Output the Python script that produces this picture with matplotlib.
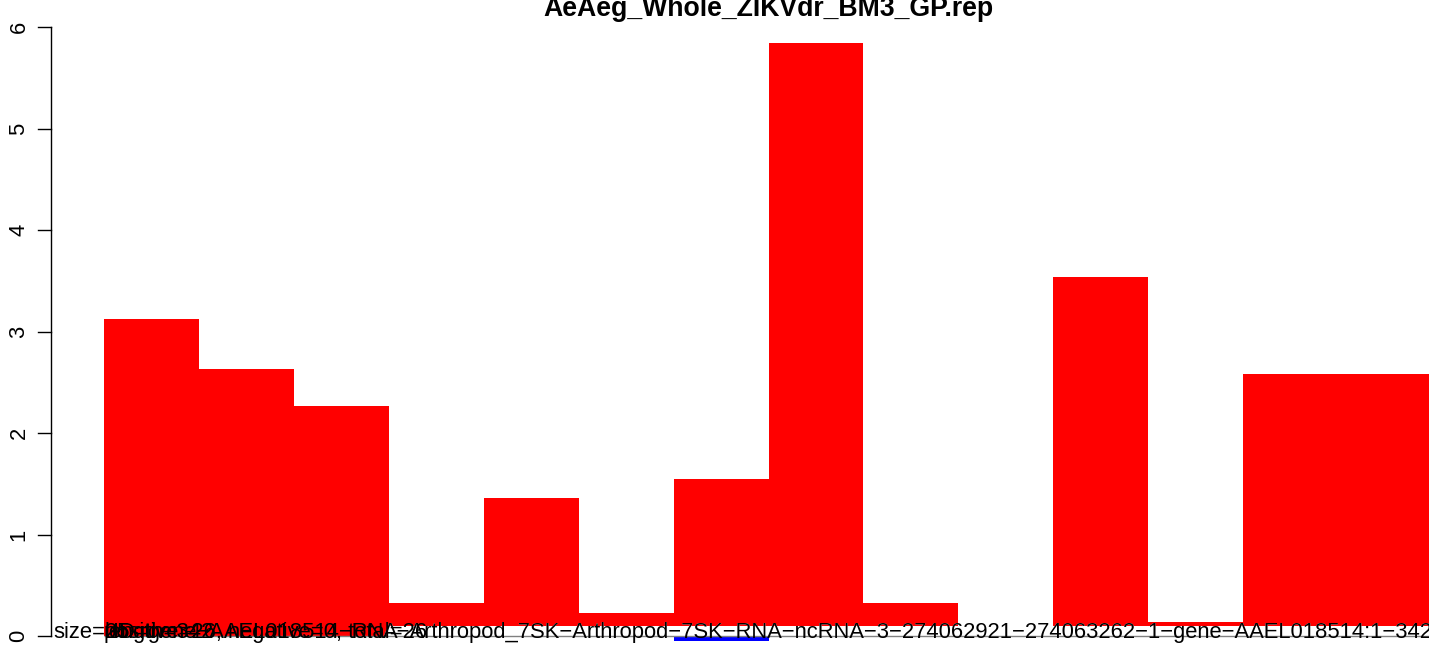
import matplotlib.pyplot as plt
import numpy as np

plt.rcParams['font.family'] = ['Liberation Sans', 'DejaVu Sans']

# values
positive = [3.12, 2.63, 2.27, 0.33, 1.36, 0.23, 1.55, 5.84, 0.33, 0.0, 3.54, 0.14, 2.58, 2.58]
negative = [0, 0, 0, 0, 0, 0, -0.05, 0, 0, 0, 0, 0, 0, 0]
yticks = [0, 1, 2, 3, 4, 5, 6]
title = "AeAeg_Whole_ZIKVdr_BM3_GP.rep"
size_label = "size=25"
info_labels = ["positive=26, negative=0, total=26", "length=342"]
name_head = "ID=gene\u2212AAEL018514\u2212RN"
name_tail = ("A\u2212Arthropod_7SK\u2212Arthropod\u22127SK\u2212RNA\u2212ncRNA\u22123\u2212"
             "274062921\u2212274063262\u22121\u2212gene\u2212AAEL018514:1\u2212342")

W, H = 1429, 645
fs = 15.8

fig = plt.figure(figsize=(W / 100, H / 100), dpi=100)
ax = fig.add_axes([0, 0, 1, 1])
ax.axis('off')

# pixel layout: bar 0 starts at x=104, each bar ~94.93 px; y=0 at 636 px, 101.5 px per unit
bw = 94.93
x0 = 104
y0 = 636
yu = 101.5
ax.set_xlim(-x0 / bw, (W - x0) / bw)
ax.set_ylim(-(H - y0) / yu, y0 / yu)

x = np.arange(len(positive))
ax.bar(x, positive, width=1, align='edge', color='red', linewidth=0, zorder=2)

# y axis drawn R style
ax_x = (50.5 - x0) / bw
tick_len = 13 / bw
ax.plot([ax_x, ax_x], [yticks[0], yticks[-1]], color='black', lw=1, zorder=5, clip_on=False)
for t in yticks:
    ax.plot([ax_x - tick_len, ax_x], [t, t], color='black', lw=1, zorder=5)
    ax.text((19 - x0) / bw, t, str(t), rotation=90, ha='center', va='center', fontsize=fs)

fig.text(768 / W, 1 - 16 / H, title, ha='center', va='baseline', fontsize=19.2, fontweight='bold')

ty = -2 / yu
ax.text((53 - x0) / bw, ty, size_label, fontsize=fs, va='baseline', ha='left', zorder=6)
for s in info_labels:
    ax.text(0, ty, s, fontsize=fs, va='baseline', ha='left', zorder=6)
head = ax.text(9 / bw, ty, name_head, fontsize=fs, va='baseline', ha='left', zorder=6)

# tail of the name sits on a white box that hides the bar bottoms
ax.annotate(name_tail, xy=(1, 0), xycoords=head, va='bottom', ha='left', fontsize=fs,
            color='white', zorder=3,
            bbox=dict(facecolor='white', edgecolor='none', boxstyle='square,pad=-0.2'))
ax.bar(x, negative, width=1, align='edge', color='blue', linewidth=0, zorder=4)
ax.hlines(0, x[0], x[-1] + 1, color='grey', lw=1, zorder=4)
ax.annotate(name_tail, xy=(1, 0), xycoords=head, va='bottom', ha='left', fontsize=fs,
            color='black', zorder=6)

fig.savefig('out.png', dpi=100)
